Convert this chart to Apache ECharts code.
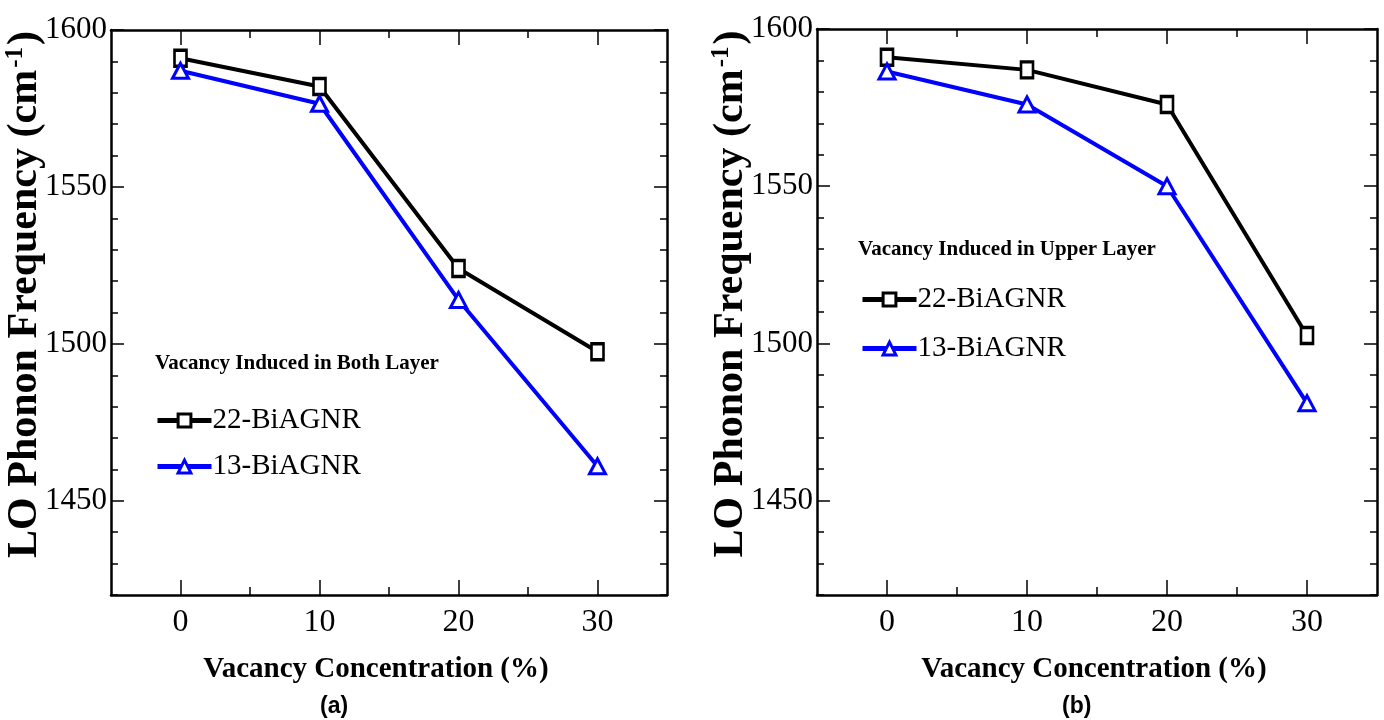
<!DOCTYPE html>
<html>
<head>
<meta charset="utf-8">
<script src="https://cdn.jsdelivr.net/npm/echarts@6/dist/echarts.min.js"></script>
<style>
html,body{margin:0;padding:0;background:#fff;}
#chart{width:1384px;height:720px;}
</style>
</head>
<body>
<div id="chart"></div>
<script>
// ---- data ----
const concentration = [0, 10, 20, 30];
const bothLayer22 = [1591, 1582, 1524, 1497.5];
const bothLayer13 = [1587, 1576.5, 1514, 1461];
const upperLayer22 = [1591, 1587, 1576, 1502.5];
const upperLayer13 = [1586.5, 1576, 1550, 1481];
const xTickLabels = [0, 10, 20, 30];
const xMinorTicks = [5, 15, 25];
const yTickLabels = [1450, 1500, 1550, 1600];
const yMinorTicks = [1420, 1430, 1440, 1460, 1470, 1480, 1490, 1510, 1520, 1530, 1540, 1560, 1570, 1580, 1590];
const seriesNames = ['22-BiAGNR', '13-BiAGNR'];
const panelTitles = ['Vacancy Induced in Both Layer', 'Vacancy Induced in Upper Layer'];
const panelTags = ['(a)', '(b)'];

const SERIF = '"Liberation Serif", "Times New Roman", serif';
const SANS = '"Liberation Sans", Arial, sans-serif';
const BLACK = '#000000';
const BLUE = '#0000ff';

function pairs(xs, ys) { return xs.map((x, i) => [x, ys[i]]); }
const plain = v => String(v);

function xAxesFor(g, namePad) {
  const base = { gridIndex: g, type: 'value', min: -5, max: 35, splitLine: { show: false } };
  const line = { show: true, onZero: false, lineStyle: { color: BLACK, width: 2.5 } };
  const hidden = { show: false, onZero: false };
  return [
    Object.assign({}, base, {
      position: 'bottom', axisLine: line,
      axisTick: { show: true, inside: true, length: 15, customValues: xTickLabels, lineStyle: { color: BLACK, width: 1.5 } },
      axisLabel: { show: true, customValues: xTickLabels, formatter: plain, color: BLACK, fontFamily: SERIF, fontSize: 32, margin: 12 },
      name: 'Vacancy Concentration (%)', nameLocation: 'middle', nameGap: 60,
      nameTextStyle: { color: BLACK, fontFamily: SERIF, fontWeight: 'bold', fontSize: 29, padding: namePad }
    }),
    Object.assign({}, base, {
      position: 'bottom', axisLine: hidden,
      axisTick: { show: true, inside: true, length: 8, customValues: xMinorTicks, lineStyle: { color: BLACK, width: 1.5 } },
      axisLabel: { show: false }
    }),
    Object.assign({}, base, {
      position: 'top', axisLine: line,
      axisTick: { show: true, inside: true, length: 15, customValues: xTickLabels, lineStyle: { color: BLACK, width: 1.5 } },
      axisLabel: { show: false }
    }),
    Object.assign({}, base, {
      position: 'top', axisLine: hidden,
      axisTick: { show: true, inside: true, length: 8, customValues: xMinorTicks, lineStyle: { color: BLACK, width: 1.5 } },
      axisLabel: { show: false }
    })
  ];
}

function yAxesFor(g) {
  const base = { gridIndex: g, type: 'value', min: 1420, max: 1600, interval: 10, splitLine: { show: false } };
  const line = { show: true, onZero: false, lineStyle: { color: BLACK, width: 2.5 } };
  const hidden = { show: false, onZero: false };
  return [
    Object.assign({}, base, {
      position: 'left', axisLine: line,
      axisTick: { show: true, inside: true, length: 13, customValues: yTickLabels, lineStyle: { color: BLACK, width: 1.5 } },
      axisLabel: { show: true, customValues: yTickLabels, formatter: plain, color: BLACK, fontFamily: SERIF, fontSize: 31, margin: 4 },
      name: '{t|LO Phonon Frequency (cm}{s|-1}{t|)}', nameLocation: 'middle', nameGap: 64, nameRotate: 90,
      nameMoveOverlap: false,
      nameTextStyle: {
        color: BLACK,
        padding: [0, 0, 0, 36],
        rich: {
          t: { fontFamily: SERIF, fontWeight: 'bold', fontSize: 42, color: BLACK, lineHeight: 44 },
          s: { fontFamily: SERIF, fontWeight: 'bold', fontSize: 25, color: BLACK, verticalAlign: 'top', lineHeight: 44, padding: [0, 2, 16, 2] }
        }
      }
    }),
    Object.assign({}, base, {
      position: 'left', axisLine: hidden,
      axisTick: { show: true, inside: true, length: 7, customValues: yMinorTicks, lineStyle: { color: BLACK, width: 1.5 } },
      axisLabel: { show: false }
    }),
    Object.assign({}, base, {
      position: 'right', axisLine: line,
      axisTick: { show: true, inside: true, length: 13, customValues: yTickLabels, lineStyle: { color: BLACK, width: 1.5 } },
      axisLabel: { show: false }
    }),
    Object.assign({}, base, {
      position: 'right', axisLine: hidden,
      axisTick: { show: true, inside: true, length: 7, customValues: yMinorTicks, lineStyle: { color: BLACK, width: 1.5 } },
      axisLabel: { show: false }
    })
  ];
}

function lineSeries(name, g, data, color, symbol, size) {
  return {
    name: name, type: 'line', xAxisIndex: g * 4, yAxisIndex: g * 4,
    data: pairs(concentration, data),
    symbol: symbol, symbolSize: size, showSymbol: true,
    lineStyle: { color: color, width: 4 },
    itemStyle: { color: '#ffffff', borderColor: color, borderWidth: 3 },
    emphasis: { disabled: true },
    animation: false, z: 2
  };
}

const legendBase = {
  data: seriesNames, orient: 'vertical', itemWidth: 54, itemHeight: 16,
  lineStyle: { width: 5 },
  itemStyle: { borderWidth: 3 },
  textStyle: { fontFamily: SERIF, fontSize: 29, color: BLACK, padding: [0, 0, 0, -4] },
  selectedMode: false
};

const chart = echarts.init(document.getElementById('chart'), null, { renderer: 'canvas' });
chart.setOption({
  backgroundColor: '#ffffff',
  animation: false,
  grid: [
    { left: 111, top: 30, width: 556, height: 565, containLabel: false, outerBoundsMode: 'none' },
    { left: 817, top: 29, width: 560, height: 566, containLabel: false, outerBoundsMode: 'none' }
  ],
  xAxis: xAxesFor(0, [0, 26, 0, 0]).concat(xAxesFor(1, [0, 6, 0, 0])),
  yAxis: yAxesFor(0).concat(yAxesFor(1)),
  title: [
    { text: panelTitles[0], left: 150, top: 348, textStyle: { fontFamily: SERIF, fontWeight: 'bold', fontSize: 21, color: BLACK } },
    { text: panelTitles[1], left: 853, top: 234, textStyle: { fontFamily: SERIF, fontWeight: 'bold', fontSize: 21, color: BLACK } },
    { text: panelTags[0], left: 315, top: 690, textStyle: { fontFamily: SANS, fontWeight: 'bold', fontSize: 23, color: BLACK } },
    { text: panelTags[1], left: 1057, top: 690, textStyle: { fontFamily: SANS, fontWeight: 'bold', fontSize: 23, color: BLACK } }
  ],
  legend: [
    Object.assign({}, legendBase, { left: 150, top: 401, itemGap: 17 }),
    Object.assign({}, legendBase, { left: 855, top: 280, itemGap: 20 })
  ],
  series: [
    lineSeries(seriesNames[0], 0, bothLayer22, BLACK, 'rect', [12, 16]),
    lineSeries(seriesNames[1], 0, bothLayer13, BLUE, 'triangle', [16, 15]),
    lineSeries(seriesNames[0], 1, upperLayer22, BLACK, 'rect', [12, 16]),
    lineSeries(seriesNames[1], 1, upperLayer13, BLUE, 'triangle', [16, 15])
  ]
});
</script>
</body>
</html>
